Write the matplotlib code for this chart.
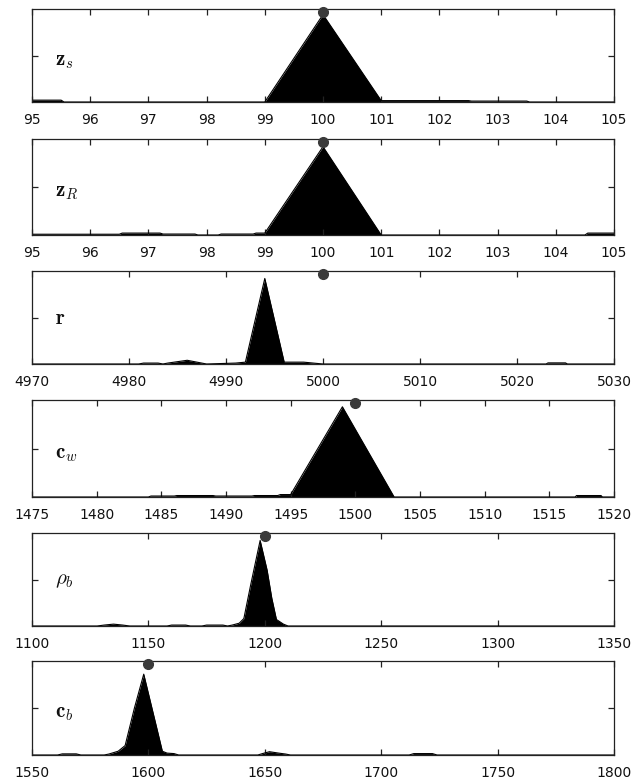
import matplotlib
matplotlib.use("Agg")
import matplotlib.pyplot as plt

plt.rcParams['mathtext.fontset'] = 'cm'
plt.rcParams['font.family'] = 'DejaVu Sans'

# Posterior histograms (normalised frequency) for each parameter
zs_x = [95, 95.5, 95.55, 99, 100, 101, 102.5, 102.55, 103.5, 103.55, 105]
zs_y = [0.02, 0.02, 0, 0, 0.94, 0.015, 0.015, 0.01, 0.01, 0, 0]

zr_x = [95, 96.5, 96.55, 97.2, 97.25, 97.8, 97.85, 98.2, 98.25, 98.8, 98.85, 99, 100, 101, 101.05, 104.5, 104.55, 105]
zr_y = [0.008, 0.008, 0.02, 0.02, 0.01, 0.01, 0, 0, 0.01, 0.01, 0.02, 0.02, 0.92, 0, 0, 0, 0.02, 0.02]

r_x = [4970, 4981, 4981.5, 4983, 4983.5, 4984, 4986, 4987.5, 4988, 4991, 4992, 4994, 4996, 4997,
       4998, 4999, 5000, 5023, 5023.2, 5025, 5025.2, 5030]
r_y = [0, 0, 0.01, 0.01, 0, 0.01, 0.04, 0.01, 0, 0.01, 0.02, 0.92, 0.02, 0.02,
       0.02, 0.01, 0, 0, 0.012, 0.012, 0, 0]

cw_x = [1475, 1484, 1484.2, 1486, 1486.2, 1489, 1489.2, 1492, 1492.2, 1494, 1494.2, 1495, 1499, 1503,
        1517, 1517.1, 1519, 1519.1, 1520]
cw_y = [0, 0, 0.01, 0.01, 0.015, 0.015, 0.01, 0.01, 0.015, 0.015, 0.025, 0.025, 0.93, 0,
        0, 0.015, 0.015, 0, 0]

rho_x = [1100, 1128, 1131, 1135, 1139, 1142, 1158, 1160, 1166, 1168, 1173, 1175, 1182, 1184,
         1186, 1189, 1191, 1194, 1198, 1201, 1203, 1205, 1208, 1210, 1350]
rho_y = [0, 0, 0.01, 0.02, 0.01, 0, 0, 0.01, 0.01, 0, 0, 0.01, 0.01, 0,
         0.01, 0.03, 0.08, 0.45, 0.92, 0.6, 0.3, 0.07, 0.02, 0, 0]

cb_x = [1550, 1561, 1563, 1569, 1571, 1581, 1583, 1587, 1590, 1594, 1598, 1602, 1606, 1608,
        1611, 1613, 1647, 1649, 1652, 1656, 1659, 1661, 1712, 1714, 1722, 1724, 1800]
cb_y = [0, 0, 0.012, 0.012, 0, 0, 0.01, 0.04, 0.1, 0.5, 0.86, 0.45, 0.04, 0.02,
        0.015, 0, 0, 0.015, 0.035, 0.02, 0.01, 0, 0, 0.015, 0.015, 0, 0]

# true values (marked by the dot)
true_vals = [100, 100, 5000, 1500, 1200, 1600]
labels = [r'$\mathbf{z}_s$', r'$\mathbf{z}_R$', r'$\mathbf{r}$', r'$\mathbf{c}_w$', r'$\rho_b$', r'$\mathbf{c}_b$']
xlims = [(95, 105), (95, 105), (4970, 5030), (1475, 1520), (1100, 1350), (1550, 1800)]
xsteps = [1, 1, 10, 5, 50, 50]
series = [(zs_x, zs_y), (zr_x, zr_y), (r_x, r_y), (cw_x, cw_y), (rho_x, rho_y), (cb_x, cb_y)]

# axes boxes in pixels: (top, bottom)
H = 782.0
boxes = [(9, 102), (139, 235), (271, 364), (400, 497), (533, 626), (661, 755)]
label_y = [0.44, 0.45, 0.49, 0.44, 0.49, 0.45]

fig = plt.figure(figsize=(6.35, 7.82), dpi=100)

for i, ((x, y), (top, bot)) in enumerate(zip(series, boxes)):
    ax = fig.add_axes([32 / 635.0, (H - bot) / H, 582 / 635.0, (bot - top) / H])
    ax.fill_between(x, 0, y, color='black', lw=0)
    ax.plot(x, y, color='black', lw=0.8)
    ax.plot([true_vals[i]], [0.97], 'o', color='#3a3a3a', ms=7, clip_on=False, zorder=5)
    lo, hi = xlims[i]
    ax.set_xlim(lo, hi)
    ax.set_ylim(0, 1)
    ax.set_xticks(range(lo, hi + 1, xsteps[i]))
    ax.set_yticks([0.5])
    ax.set_yticklabels([])
    ax.tick_params(direction='in', length=4.5, width=0.9, top=True, right=True,
                   labelsize=10, pad=8, colors='#222222', labelcolor='#111111')
    for s in ax.spines.values():
        s.set_linewidth(0.9)
        s.set_color('#222222')
    ax.text(0.04, label_y[i], labels[i], transform=ax.transAxes, fontsize=15,
            ha='left', va='center', color='#111111')

fig.savefig('out.png', dpi=100)
